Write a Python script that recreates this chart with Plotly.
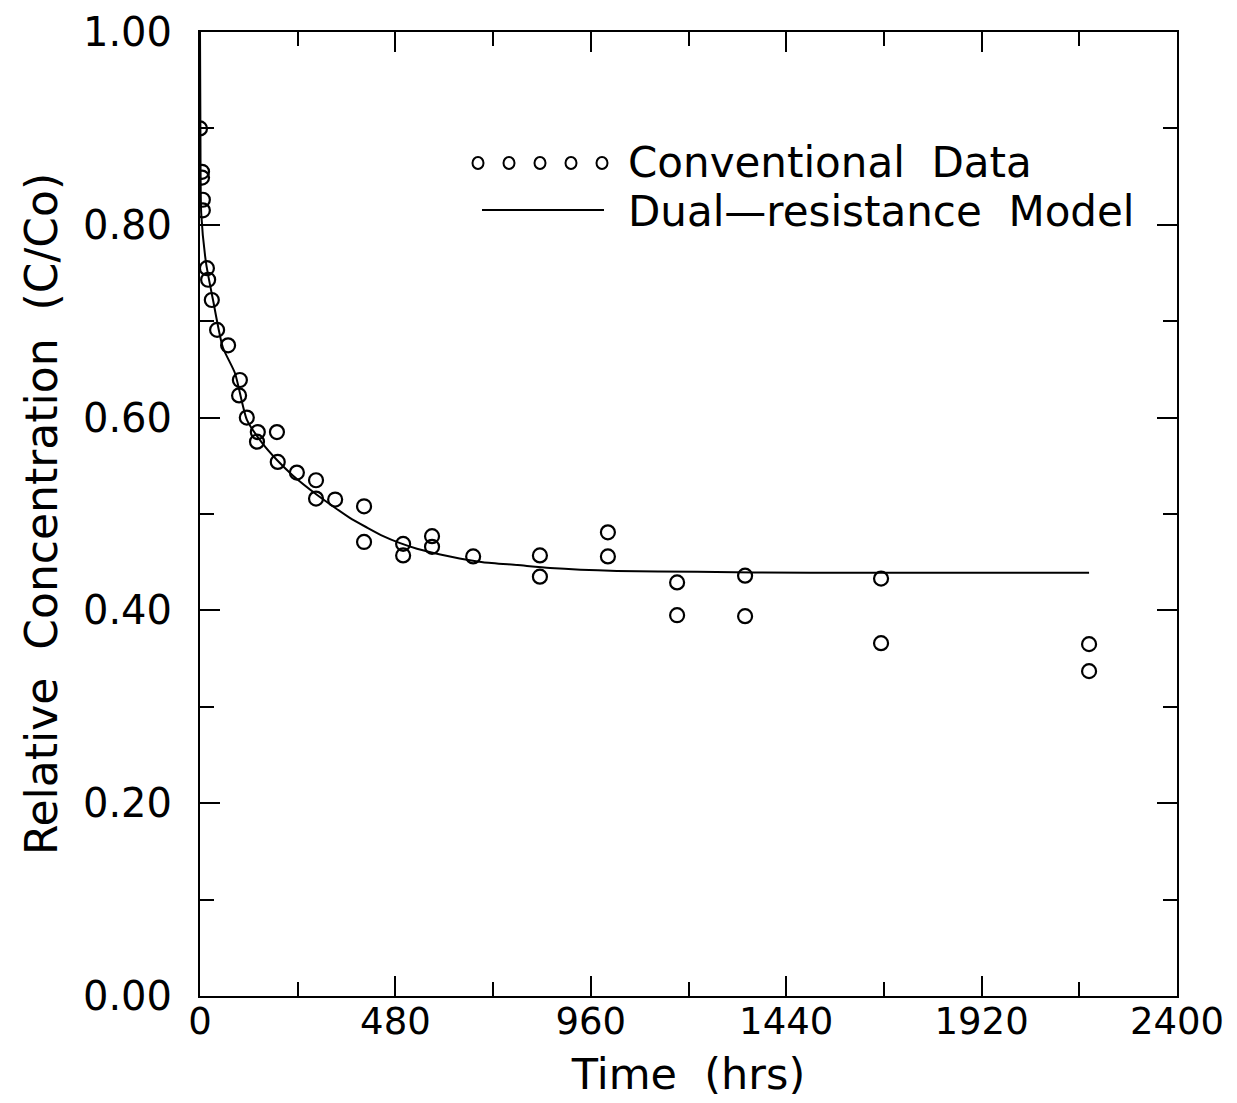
import plotly.graph_objects as go

# Conventional data (time in hrs, C/Co)
data_t = [0, 5, 5, 7, 7, 17, 20, 29, 42, 69, 98, 96, 115, 142, 140,
          189, 191, 238, 285, 285, 332, 403, 403, 499, 499, 570, 570,
          671, 835, 835, 1002, 1002, 1172, 1172, 1339, 1339, 1673, 1673,
          2184, 2184]
data_c = [0.900, 0.855, 0.849, 0.826, 0.815, 0.755, 0.743, 0.722, 0.691,
          0.675, 0.639, 0.623, 0.600, 0.585, 0.575,
          0.585, 0.554, 0.543, 0.535, 0.516, 0.515, 0.508, 0.471, 0.469,
          0.457, 0.477, 0.466, 0.456, 0.457, 0.435, 0.481, 0.456, 0.429,
          0.395, 0.436, 0.394, 0.433, 0.366, 0.365, 0.337]

# Dual-resistance model curve
model_t = [0, 1, 3, 15, 32, 56, 86, 115, 152, 189, 228, 287, 330, 368,
           410, 450, 490, 533, 614, 695, 780, 860, 1024, 1221, 1500, 1800,
           2184]
model_c = [1.000, 0.900, 0.812, 0.760, 0.722, 0.673, 0.646, 0.598, 0.574,
           0.556, 0.540, 0.520, 0.507, 0.496, 0.486, 0.477, 0.470, 0.464,
           0.456, 0.450, 0.447, 0.444, 0.441, 0.440, 0.439, 0.439, 0.439]

x_ticks = [0, 480, 960, 1440, 1920, 2400]
y_ticks = [0.0, 0.2, 0.4, 0.6, 0.8, 1.0]

FONT = "DejaVu Sans"

fig = go.Figure()
fig.add_trace(go.Scatter(x=model_t, y=model_c, mode="lines",
                         line=dict(color="black", width=2, shape="spline",
                                   smoothing=0.6),
                         showlegend=False))
fig.add_trace(go.Scatter(x=data_t, y=data_c, mode="markers",
                         marker=dict(symbol="circle-open", size=14,
                                     color="black", line=dict(width=2.2)),
                         showlegend=False))

axis_common = dict(showline=True, linecolor="black", linewidth=2,
                   mirror="ticks", ticks="inside", tickcolor="black",
                   tickwidth=2, ticklen=20, showgrid=False, zeroline=False,
                   automargin=False)

fig.update_xaxes(range=[0, 2400], tickvals=x_ticks,
                 ticktext=[str(v) for v in x_ticks],
                 ticklabelstandoff=-8,
                 tickfont=dict(family=FONT, size=37, color="black"),
                 minor=dict(dtick=240, ticks="inside", ticklen=14,
                            tickwidth=2, tickcolor="black", showgrid=False),
                 title=dict(text="Time&nbsp; (hrs)",
                            font=dict(family=FONT, size=43, color="black"),
                            standoff=16),
                 **axis_common)
fig.update_yaxes(range=[0, 1.0], tickvals=y_ticks,
                 ticktext=["%.2f" % v for v in y_ticks],
                 ticklabelstandoff=18,
                 tickfont=dict(family=FONT, size=40, color="black"),
                 minor=dict(dtick=0.1, ticks="inside", ticklen=14,
                            tickwidth=2, tickcolor="black", showgrid=False),
                 title=dict(text="Relative&nbsp; Concentration&nbsp; (C/Co)",
                            font=dict(family=FONT, size=44, color="black"),
                            standoff=12),
                 **axis_common)

# Manual legend
for cx in [478, 509, 540, 571, 602]:
    fig.add_shape(type="circle", xref="paper", yref="paper",
                  x0=(cx - 5.5 - 200) / 977, x1=(cx + 5.5 - 200) / 977,
                  y0=(996 - 169) / 964, y1=(996 - 157) / 964,
                  line=dict(color="black", width=2))
fig.add_shape(type="line", xref="paper", yref="paper",
              x0=(482 - 200) / 977, x1=(604 - 200) / 977,
              y0=(996 - 210) / 964, y1=(996 - 210) / 964,
              line=dict(color="black", width=2))
fig.add_annotation(text="Conventional&nbsp; Data", xref="paper", yref="paper",
                   x=(626 - 200) / 977, y=(996 - 163) / 964,
                   xanchor="left", yanchor="middle", showarrow=False,
                   font=dict(family=FONT, size=42, color="black"))
fig.add_annotation(text="Dual\u2014resistance&nbsp; Model", xref="paper", yref="paper",
                   x=(626 - 200) / 977, y=(996 - 211) / 964,
                   xanchor="left", yanchor="middle", showarrow=False,
                   font=dict(family=FONT, size=42, color="black"))

fig.update_layout(width=1237, height=1103,
                  margin=dict(l=200, r=60, t=32, b=107),
                  plot_bgcolor="white", paper_bgcolor="white",
                  showlegend=False)

fig.write_html("out.html")
